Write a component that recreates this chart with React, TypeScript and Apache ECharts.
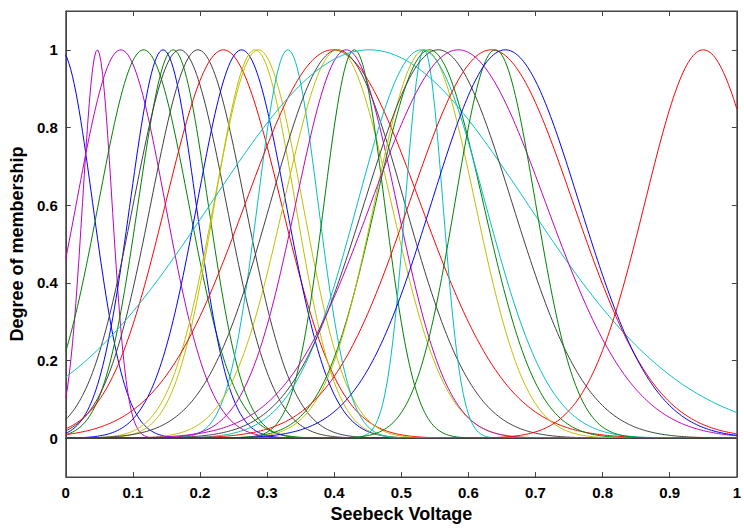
import React, { useEffect, useRef } from "react";
import * as echarts from "echarts";

// Gaussian membership functions: colour, centre, width (sigma)
const mfColors = [
  "b", "m", "m", "g", "b", "g", "k", "k", "r", "b",
  "y", "y", "c", "r", "k", "y", "m", "g", "c", "c",
  "g", "y", "c", "k", "m", "r", "g", "b", "r",
];
const mfCenters = [
  -0.008, 0.047, 0.082, 0.116, 0.145, 0.16, 0.17, 0.197, 0.235, 0.262,
  0.282, 0.287, 0.331, 0.398, 0.405, 0.405, 0.418, 0.43, 0.452, 0.534,
  0.542, 0.535, 0.53, 0.555, 0.585, 0.634, 0.64, 0.655, 0.95,
];
const mfSigmas = [
  0.048, 0.022, 0.066, 0.067, 0.049, 0.052, 0.069, 0.07, 0.086, 0.066,
  0.06, 0.066, 0.045, 0.13, 0.1, 0.08, 0.075, 0.045, 0.235, 0.028,
  0.08, 0.075, 0.095, 0.11, 0.13, 0.122, 0.06, 0.11, 0.087,
];
const xTicks = [0, 0.1, 0.2, 0.3, 0.4, 0.5, 0.6, 0.7, 0.8, 0.9, 1];
const yTicks = [0, 0.2, 0.4, 0.6, 0.8, 1];

const palette: Record<string, string> = {
  b: "#0000ff",
  g: "#008000",
  r: "#ff0000",
  c: "#00bfbf",
  m: "#bf00bf",
  y: "#bfbf00",
  k: "#404040",
};

const SAMPLES = 401;

function gaussmf(x: number, c: number, s: number) {
  return Math.exp(-((x - c) * (x - c)) / (2 * s * s));
}

export default function App() {
  const ref = useRef<HTMLDivElement>(null);
  useEffect(() => {
    if (!ref.current) return;
    const chart = echarts.init(ref.current, null, { renderer: "svg" });
    const series: any[] = mfCenters.map((c, i) => {
      const pts: number[][] = [];
      for (let k = 0; k < SAMPLES; k++) {
        const x = k / (SAMPLES - 1);
        pts.push([x, gaussmf(x, c, mfSigmas[i])]);
      }
      return {
        type: "line",
        data: pts,
        showSymbol: false,
        symbol: "none",
        lineStyle: { width: 1, color: palette[mfColors[i]] },
        silent: true,
      };
    });
    series.push({
      type: "line",
      data: [],
      markLine: {
        silent: true,
        symbol: "none",
        label: { show: false },
        lineStyle: { color: "#404040", width: 1, type: "solid" },
        data: [{ yAxis: 0 }],
      },
    });
    const labelFont = {
      fontFamily: "Liberation Sans, Arial, sans-serif",
      fontWeight: "bold" as const,
      fontSize: 15,
      color: "#000",
    };
    const frame = "#444";
    const axisLineStyle = { color: frame, width: 1 };
    const tick = { show: true, inside: true, length: 5, lineStyle: axisLineStyle };
    chart.setOption({
      animation: false,
      backgroundColor: "#fff",
      grid: {
        left: 65,
        right: 5,
        top: 11,
        bottom: 50,
        containLabel: false,
        show: true,
        borderColor: frame,
        borderWidth: 1,
      },
      xAxis: [
        {
          type: "value",
          min: 0,
          max: 1,
          interval: 0.1,
          name: "Seebeck Voltage",
          nameLocation: "middle",
          nameGap: 28,
          nameTextStyle: { ...labelFont, fontSize: 18 },
          axisLine: { show: true, onZero: false, lineStyle: axisLineStyle },
          axisTick: tick,
          axisLabel: {
            ...labelFont,
            margin: 8,
            formatter: (v: number) => {
              const t = xTicks.find((q) => Math.abs(q - v) < 1e-6);
              return t === undefined ? "" : String(t);
            },
          },
          splitLine: { show: false },
        },
        {
          type: "value",
          position: "top",
          min: 0,
          max: 1,
          interval: 0.1,
          axisLine: { show: true, onZero: false, lineStyle: axisLineStyle },
          axisTick: tick,
          axisLabel: { show: false },
          splitLine: { show: false },
        },
      ],
      yAxis: [
        {
          type: "value",
          min: -0.1,
          max: 1.1,
          name: "Degree of membership",
          nameLocation: "middle",
          nameGap: 29,
          nameTextStyle: { ...labelFont, fontSize: 18 },
          axisLine: { show: true, onZero: false, lineStyle: axisLineStyle },
          axisTick: { ...tick, customValues: yTicks },
          axisLabel: {
            ...labelFont,
            margin: 8,
            customValues: yTicks,
            formatter: (v: number) => String(Math.round(v * 10) / 10),
          },
          splitLine: { show: false },
        },
        {
          type: "value",
          position: "right",
          min: -0.1,
          max: 1.1,
          axisLine: { show: true, onZero: false, lineStyle: axisLineStyle },
          axisTick: { ...tick, customValues: yTicks },
          axisLabel: { show: false },
          splitLine: { show: false },
        },
      ],
      series,
    });
    return () => chart.dispose();
  }, []);
  return <div ref={ref} style={{ width: 744, height: 528, position: "absolute", left: 0, top: 0 }} />;
}
